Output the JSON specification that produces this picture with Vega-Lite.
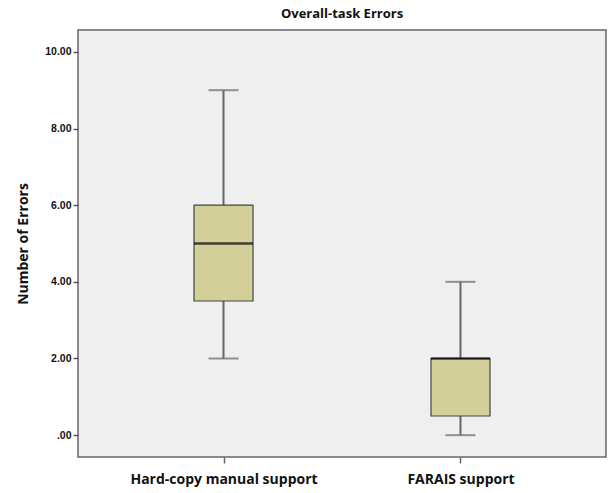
{
  "$schema": "https://vega.github.io/schema/vega-lite/v6.json",
  "width": 528,
  "height": 427,
  "autosize": {"type": "none"},
  "padding": {"left": 78, "top": 30, "right": 2, "bottom": 36},
  "background": "white",
  "title": {
    "text": "Overall-task Errors",
    "font": "Open Sans",
    "fontSize": 13,
    "fontWeight": "bold",
    "color": "#111",
    "anchor": "middle",
    "offset": 9
  },
  "config": {
    "view": {"fill": "#efefef", "stroke": "#666", "strokeWidth": 1.5}
  },
  "data": {
    "values": [
      {"group": "Hard-copy manual support", "min": 2, "q1": 3.5, "median": 5, "q3": 6, "max": 9},
      {"group": "FARAIS support", "min": 0, "q1": 0.5, "median": 2, "q3": 2, "max": 4}
    ]
  },
  "encoding": {
    "x": {
      "field": "group",
      "type": "nominal",
      "sort": null,
      "scale": {"type": "point", "padding": 0.614},
      "axis": {
        "title": null,
        "labelAngle": 0,
        "labelLimit": 0,
        "labelFont": "Open Sans",
        "labelFontSize": 14,
        "labelFontWeight": "bold",
        "labelColor": "#111",
        "labelPadding": 9,
        "tickSize": 6,
        "tickColor": "#666",
        "tickWidth": 1.5,
        "domain": false
      }
    }
  },
  "layer": [
    {
      "mark": {"type": "rule", "color": "#666", "strokeWidth": 2},
      "encoding": {
        "y": {
          "field": "min",
          "type": "quantitative",
          "scale": {"domain": [-0.57, 10.57], "nice": false, "zero": false},
          "axis": {
            "title": "Number of Errors",
            "titleFont": "Open Sans",
            "titleFontSize": 14,
            "titleFontWeight": "bold",
            "titleColor": "#111",
            "titlePadding": 14,
            "values": [0, 2, 4, 6, 8, 10],
            "labelExpr": "datum.value == 0 ? '.00' : format(datum.value, '.2f')",
            "labelFont": "Liberation Sans",
            "labelFontSize": 10.5,
            "labelFontWeight": "bold",
            "labelColor": "#111",
            "labelPadding": 2,
            "tickSize": 5,
            "tickColor": "#555",
            "tickWidth": 1.5,
            "grid": false,
            "domain": false
          }
        },
        "y2": {"field": "max"}
      }
    },
    {
      "mark": {"type": "tick", "color": "#666", "size": 30, "thickness": 2},
      "encoding": {"y": {"field": "min", "type": "quantitative"}}
    },
    {
      "mark": {"type": "tick", "color": "#666", "size": 30, "thickness": 2},
      "encoding": {"y": {"field": "max", "type": "quantitative"}}
    },
    {
      "mark": {"type": "bar", "size": 59, "fill": "#d3cf98", "stroke": "#444", "strokeWidth": 1.2},
      "encoding": {
        "y": {"field": "q1", "type": "quantitative"},
        "y2": {"field": "q3"}
      }
    },
    {
      "mark": {"type": "tick", "color": "#000", "size": 59, "thickness": 2.5},
      "encoding": {"y": {"field": "median", "type": "quantitative"}}
    }
  ]
}
